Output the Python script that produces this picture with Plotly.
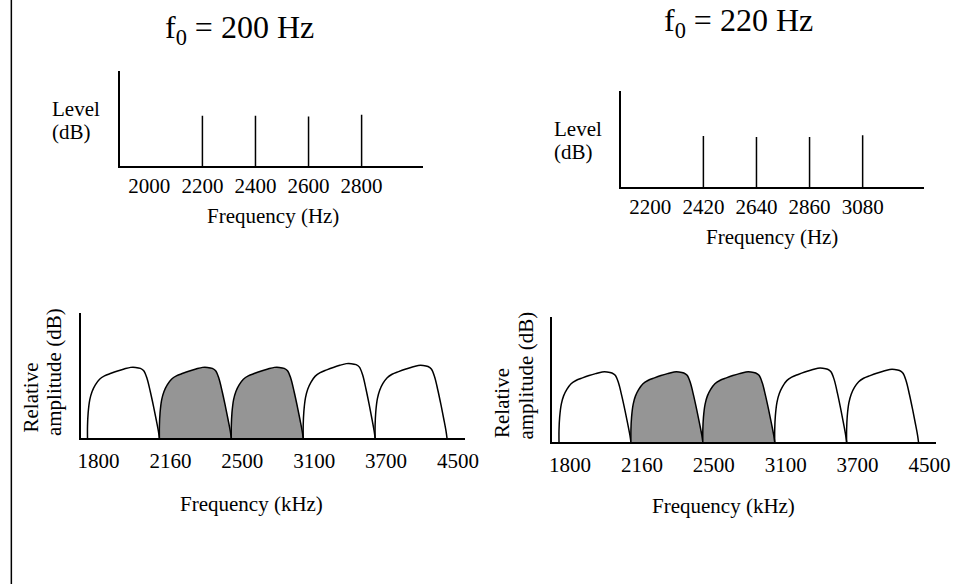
import plotly.graph_objects as go

W, H = 961, 584
FONT = "Liberation Serif, Times New Roman, serif"

# ---- data ----
# top panels: harmonic components (Hz) and their levels (arbitrary dB scale 0-10)
tl_ticks = [2000, 2200, 2400, 2600, 2800]
tl_harm = [2200, 2400, 2600, 2800]
tl_level = [5.3, 5.3, 5.2, 5.4]

tr_ticks = [2200, 2420, 2640, 2860, 3080]
tr_harm = [2420, 2640, 2860, 3080]
tr_level = [5.3, 5.2, 5.2, 5.4]

# bottom panels: auditory filter bands (edges) and their peak amplitudes
band_edges = ["1800", "2160", "2500", "3100", "3700", "4500"]
bl_peaks = [5.65, 5.65, 5.65, 5.95, 5.8]
br_peaks = [5.6, 5.6, 5.6, 5.9, 5.8]
shaded = [False, True, True, False, False]

# filter-shape profile (fraction of band width, fraction of peak)
profile_u = [0.0, 0.0, 0.009, 0.032, 0.064, 0.109, 0.168, 0.236, 0.327, 0.418,
             0.509, 0.6, 0.668, 0.736, 0.782, 0.827, 0.873, 0.918, 0.955, 0.986, 1.0]
profile_v = [0.0, 0.168, 0.355, 0.542, 0.659, 0.752, 0.832, 0.879, 0.916, 0.949,
             0.977, 1.0, 1.0, 0.986, 0.953, 0.846, 0.659, 0.449, 0.262, 0.098, 0.0]


def fx(px):
    return px / W


def fy(py):
    return 1 - py / H


fig = go.Figure()


def stems(xs, ys, xa, ya):
    x, y = [], []
    for a, b in zip(xs, ys):
        x += [a, a, None]
        y += [0, b, None]
    fig.add_trace(go.Scatter(x=x, y=y, mode="lines", xaxis=xa, yaxis=ya,
                             line=dict(color="black", width=1.5),
                             hoverinfo="skip", showlegend=False))


stems(tl_harm, tl_level, "x", "y")
stems(tr_harm, tr_level, "x2", "y2")


def humps(peaks, xa, ya):
    for i, pk in enumerate(peaks):
        x = [i + u for u in profile_u]
        y = [v * pk for v in profile_v]
        fig.add_trace(go.Scatter(
            x=x, y=y, mode="lines", xaxis=xa, yaxis=ya,
            fill="toself",
            fillcolor="#959595" if shaded[i] else "rgba(255,255,255,0)",
            line=dict(color="black", width=1.5, shape="spline", smoothing=1.0),
            hoverinfo="skip", showlegend=False))


humps(bl_peaks, "x3", "y3")
humps(br_peaks, "x4", "y4")

axis_common = dict(showline=True, linecolor="black", linewidth=1.5,
                   showgrid=False, zeroline=False, ticks="",
                   tickfont=dict(family=FONT, size=21, color="black"))

fig.update_layout(
    width=W, height=H,
    margin=dict(l=0, r=0, t=0, b=0),
    paper_bgcolor="white", plot_bgcolor="white",
    showlegend=False,
    font=dict(family=FONT, color="black"),
    xaxis=dict(domain=[fx(119), fx(428)], range=[1889, 3033], anchor="y",
               tickvals=tl_ticks, ticktext=[str(t) for t in tl_ticks],
               **axis_common),
    yaxis=dict(domain=[fy(166), fy(71)], range=[0, 10], anchor="x",
               showticklabels=False, **axis_common),
    xaxis2=dict(domain=[fx(629), fx(938)], range=[2078, 3336], anchor="y2",
                tickvals=tr_ticks, ticktext=[str(t) for t in tr_ticks],
                **axis_common),
    yaxis2=dict(domain=[fy(187), fy(91)], range=[0, 10], anchor="x2",
                showticklabels=False, **axis_common),
    xaxis3=dict(domain=[fx(79), fx(470)], range=[-0.096, 5.246], anchor="y3",
                tickvals=list(range(len(band_edges))), ticktext=band_edges,
                ticklabelshift=11, ticklabelstandoff=3, **axis_common),
    yaxis3=dict(domain=[fy(438), fy(313)], range=[0, 10], anchor="x3",
                showticklabels=False, **axis_common),
    xaxis4=dict(domain=[fx(559), fx(950)], range=[-0.096, 5.246], anchor="y4",
                tickvals=list(range(len(band_edges))), ticktext=band_edges,
                ticklabelshift=11, ticklabelstandoff=3, **axis_common),
    yaxis4=dict(domain=[fy(442), fy(317)], range=[0, 10], anchor="x4",
                showticklabels=False, **axis_common),
)


def note(text, px, py, size=21, angle=0, xanchor="center"):
    fig.add_annotation(text=text, x=fx(px), y=fy(py), xref="paper", yref="paper",
                       showarrow=False, xanchor=xanchor, yanchor="middle",
                       textangle=angle,
                       font=dict(family=FONT, size=size, color="black"))


# titles
note("f<sub>0</sub> = 200 Hz", 241, 30, size=32)
note("f<sub>0</sub> = 220 Hz", 749, 23, size=32)

# top y labels
note("Level", 48, 109, xanchor="left")
note("(dB)", 48, 132, xanchor="left")
note("Level", 559, 129, xanchor="left")
note("(dB)", 559, 152, xanchor="left")

# top x titles
note("Frequency (Hz)", 275, 216)
note("Frequency (Hz)", 783, 237)

# bottom y labels
note("Relative", 28, 398, angle=-90)
note("amplitude (dB)", 52, 372, angle=-90)
note("Relative", 508, 403, angle=-90)
note("amplitude (dB)", 532, 376, angle=-90)

# bottom x titles
note("Frequency (kHz)", 253, 504)
note("Frequency (kHz)", 733, 506)

# left border of the slide
fig.add_shape(type="line", xref="paper", yref="paper",
              x0=fx(8.5), x1=fx(8.5), y0=0, y1=1,
              line=dict(color="black", width=1.5))

fig.write_html("out.html")
